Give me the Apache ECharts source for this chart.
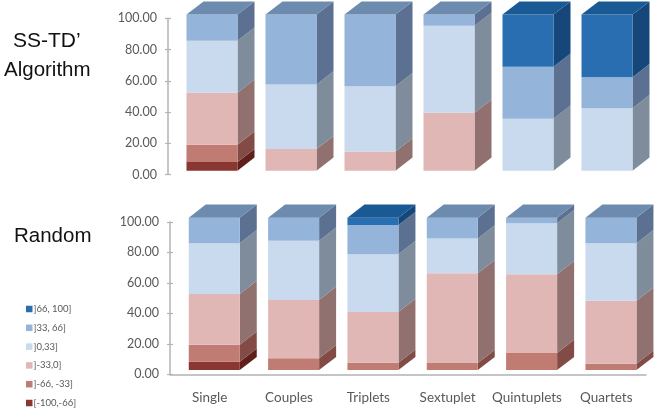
<!DOCTYPE html>
<html><head><meta charset="utf-8">
<style>html,body{margin:0;padding:0;background:#fff}#c{width:656px;height:410px;filter:blur(0.4px)}</style>
<script src="https://cdn.jsdelivr.net/npm/echarts@6/dist/echarts.min.js"></script>
</head><body><div id="c"></div>
<script>
const categories = ['Single','Couples','Triplets','Sextuplet','Quintuplets','Quartets'];
const binNames = ['[-100,-66]',']-66, -33]',']-33,0]',']0,33]',']33, 66]',']66, 100]'];

// SS-TD' Algorithm panel, one array per bin
const algoBin1 = [5.56,0,0,0,0,0];
const algoBin2 = [11.11,0,0,0,0,0];
const algoBin3 = [33.33,13.9,12.4,37.1,0,0];
const algoBin4 = [33.33,41.4,41.8,55.7,33.3,40.1];
const algoBin5 = [16.67,44.7,45.8,7.2,33.3,19.8];
const algoBin6 = [0,0,0,0,33.4,40.1];

// Random panel
const randBin1 = [5.56,0,0,0,0,0];
const randBin2 = [11.11,7.7,4.8,4.6,11.2,4.2];
const randBin3 = [33.33,38.4,33.4,59.0,51.7,41.4];
const randBin4 = [33.33,38.8,37.9,22.8,33.6,37.7];
const randBin5 = [16.67,15.1,19.1,13.6,3.5,16.7];
const randBin6 = [0,0,4.8,0,0,0];

const frontColors = ['#8a3631','#c07b73','#e0b7b5','#c9d9ee','#94b4da','#2a6eb2'];
const sideColors  = ['#5f201b','#834b46','#917170','#7f8c9c','#5c7191','#15477b'];
const topColors   = ['#5f201b','#834b46','#917170','#7f8c9c','#6d8bae','#1a5a94'];

const barW = 51, depthX = 17, depthY = 13.2;

function makeSeries(panel, xIdx, yIdx, shiftX, shiftY) {
  const running = categories.map(() => 0);
  return panel.map((vals, b) => {
    const data = vals.map((v, i) => {
      const start = running[i]; running[i] += v;
      return [i, start, running[i]];
    });
    return {
      type: 'custom', name: binNames[b], xAxisIndex: xIdx, yAxisIndex: yIdx,
      itemStyle: {color: frontColors[b]}, clip: false, silent: true,
      encode: {x: 0, y: [1, 2]}, data,
      renderItem(params, api) {
        const i = api.value(0), s = api.value(1), e = api.value(2);
        if (e - s <= 0) return {type: 'group', children: []};
        const p0 = api.coord([i, s]), p1 = api.coord([i, e]);
        const x0 = p0[0] + shiftX - barW / 2, x1 = x0 + barW;
        const yb = p0[1] + shiftY, yt = p1[1] + shiftY;
        const kids = [
          {type: 'polygon', shape: {points: [[x1,yb],[x1+depthX,yb-depthY],[x1+depthX,yt-depthY],[x1,yt]]}, style: {fill: sideColors[b]}},
          {type: 'rect', shape: {x: x0, y: yt, width: barW, height: yb - yt}, style: {fill: frontColors[b]}}
        ];
        if (e >= 99.5) kids.push({type: 'polygon', shape: {points: [[x0,yt],[x0+depthX,yt-depthY],[x1+depthX,yt-depthY],[x1,yt]]}, style: {fill: topColors[b]}});
        return {type: 'group', children: kids};
      }
    };
  });
}

const axisGrey = '#b3b3b3', labelGrey = '#595959', uiFont = 'Lato';
function yAxes(gridIndex) {
  const base = {type: 'value', gridIndex, min: 0, max: 100, interval: 20, splitLine: {show: false}, position: 'left'};
  return [
    Object.assign({}, base, {
      axisLine: {show: true, lineStyle: {color: axisGrey, width: 1.5}},
      axisTick: {show: true, length: 3, lineStyle: {color: axisGrey, width: 1.2}},
      axisLabel: {color: labelGrey, fontFamily: uiFont, fontSize: 12.5, margin: 11, formatter: v => v.toFixed(2)}
    }),
    Object.assign({}, base, {
      axisLine: {show: false}, axisLabel: {show: false},
      axisTick: {show: true, inside: true, length: 3, lineStyle: {color: axisGrey, width: 1.2}}
    })
  ];
}

const option = {
  animation: false,
  backgroundColor: '#fff',
  grid: [
    {left: 168, width: 474, top: 18.3, height: 156.2},
    {left: 170, width: 476, top: 222, height: 152.3}
  ],
  xAxis: [
    {type: 'category', gridIndex: 0, data: categories, axisLine: {show: false}, axisTick: {show: false}, axisLabel: {show: false}},
    {type: 'category', gridIndex: 1, data: categories,
     axisLine: {show: true, lineStyle: {color: axisGrey, width: 1.5}}, axisTick: {show: false},
     axisLabel: {color: labelGrey, fontFamily: uiFont, fontSize: 13.5, margin: 16, interval: 0}}
  ],
  yAxis: [...yAxes(0), ...yAxes(1)],
  legend: {
    orient: 'vertical', left: 26, top: 304, height: 106, padding: 0, itemWidth: 6.5, itemHeight: 6.5, itemGap: 8.8, icon: 'rect',
    data: binNames.slice().reverse(), selectedMode: false,
    textStyle: {color: labelGrey, fontFamily: uiFont, fontSize: 9.5, padding: [0,0,0,-4]}
  },
  graphic: [
    {type: 'text', left: 13, top: 30.5, style: {text: 'SS-TD\u2019', fontFamily: 'Liberation Sans', fontSize: 21, fill: '#111'}},
    {type: 'text', left: 4, top: 59.5, style: {text: 'Algorithm', fontFamily: 'Liberation Sans', fontSize: 20.5, fill: '#111'}},
    {type: 'text', left: 14, top: 226, style: {text: 'Random', fontFamily: 'Liberation Sans', fontSize: 20.5, fill: '#111'}}
  ],
  series: [
    ...makeSeries([algoBin1,algoBin2,algoBin3,algoBin4,algoBin5,algoBin6], 0, 0, 4.5, -3.7),
    ...makeSeries([randBin1,randBin2,randBin3,randBin4,randBin5,randBin6], 1, 2, 4.6, -4.2)
  ]
};
echarts.init(document.getElementById('c')).setOption(option);
</script></body></html>
